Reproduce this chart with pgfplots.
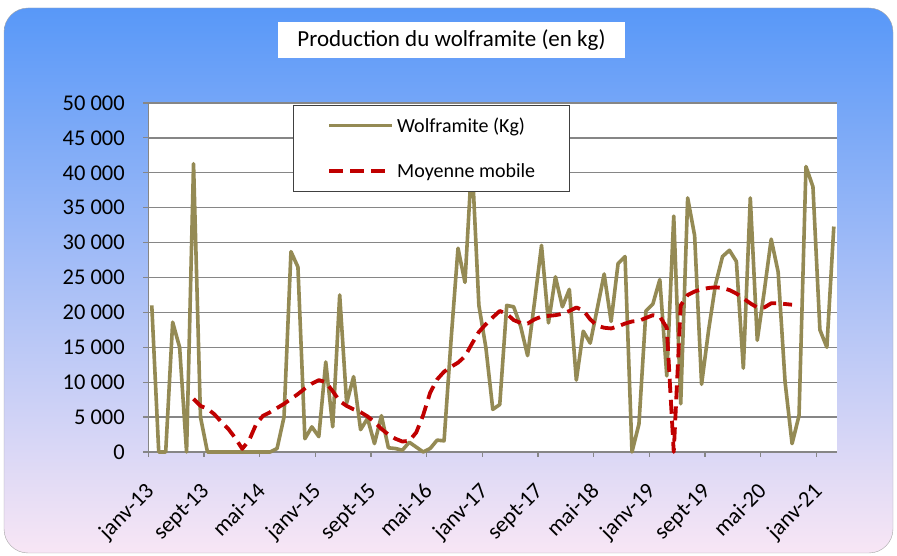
\documentclass[border=0pt]{standalone}
\usepackage{pgfplots}
\pgfplotsset{compat=1.18}
\usepackage{fontspec}
\setmainfont{Carlito}
\definecolor{wolf}{RGB}{148,138,84}
\definecolor{mmred}{RGB}{192,0,0}
\definecolor{axgray}{RGB}{134,134,134}
\definecolor{bgtop}{RGB}{88,152,248}
\definecolor{bgbot}{RGB}{248,230,245}
\begin{document}
\begin{tikzpicture}
\useasboundingbox (0,0) rectangle (897pt,556pt);
\shade[top color=bgtop, bottom color=bgbot, draw=gray!70, rounded corners=24pt] (4pt,3pt) rectangle (893pt,548pt);
\node[fill=white, minimum width=347pt, minimum height=36pt, inner sep=0pt, font=\fontsize{23}{27}\selectfont] at (451.5pt,516pt) {Production du wolframite (en kg)};
\begin{axis}[
  at={(148.3pt,104pt)}, anchor=south west,
  scale only axis, width=689pt, height=349pt,
  xmin=-0.5, xmax=98.5, ymin=0, ymax=50000,
  clip=false,
  axis background/.style={fill=white},
  axis x line*=bottom, axis y line*=left,
  axis line style={draw=axgray, line width=1.3pt, -},
  ytick={0,5000,...,50000},
  scaled y ticks=false,
  yticklabels={0,5~000,10~000,15~000,20~000,25~000,30~000,35~000,40~000,45~000,50~000},
  ymajorgrids,
  major grid style={draw=axgray, line width=1.3pt},
  tick align=outside, major tick length=5pt,
  tick style={draw=axgray, line width=1.2pt},
  xtick={-0.5,7.5,...,95.5},
  xticklabels={janv-13,sept-13,mai-14,janv-15,sept-15,mai-16,janv-17,sept-17,mai-18,janv-19,sept-19,mai-20,janv-21},
  tick label style={font=\fontsize{22.5}{26}\selectfont, text=black},
  yticklabel style={xshift=-15pt},
  xticklabel style={rotate=45, anchor=north east, xshift=-17pt, yshift=-11pt},
  legend style={at={(0.21,0.994)}, anchor=north west, draw=black!75, line width=0.9pt, fill=white,
    font=\fontsize{20}{24}\selectfont, inner xsep=34pt, inner ysep=12pt, row sep=30pt, column sep=3pt,
    nodes={inner sep=0pt}},
  legend cell align=left,
  legend image code/.code={\draw[#1] (0pt,0pt) -- (63pt,0pt);},
]
\addplot[color=wolf, line width=3.6pt, line join=round] coordinates {
(0,21000) (1,0) (2,0) (3,18600) (4,15000) (5,0) (6,41300) (7,5000) (8,0) (9,0)
(10,0) (11,0) (12,0) (13,0) (14,0) (15,0) (16,0) (17,0) (18,500) (19,5000)
(20,28700) (21,26500) (22,1900) (23,3600) (24,2200) (25,12900) (26,3600) (27,22500) (28,7000) (29,10800)
(30,3200) (31,4800) (32,1200) (33,5200) (34,600) (35,500) (36,250) (37,1400) (38,700) (39,0)
(40,500) (41,1700) (42,1600) (43,16000) (44,29200) (45,24300) (46,42000) (47,21000) (48,15000) (49,6100)
(50,6800) (51,21000) (52,20800) (53,18000) (54,13800) (55,21500) (56,29600) (57,18500) (58,25100) (59,20800)
(60,23300) (61,10300) (62,17300) (63,15600) (64,20500) (65,25500) (66,18700) (67,27000) (68,28000) (69,0)
(70,4000) (71,20200) (72,21200) (73,24700) (74,10900) (75,33800) (76,6900) (77,36400) (78,31000) (79,9700)
(80,17400) (81,24000) (82,28000) (83,28900) (84,27300) (85,12000) (86,36400) (87,16000) (88,23000) (89,30500)
(90,25800) (91,10000) (92,1200) (93,5200) (94,40900) (95,38000) (96,17500) (97,15000) (98,32300)
};
\addlegendentry{Wolframite (Kg)}
\addplot[color=mmred, line width=3.8pt, dash pattern=on 14pt off 7pt, line join=round] coordinates {
(6,7600) (7,6600) (8,6200) (9,5400) (10,4300) (11,3300) (12,2000) (13,450) (14,1700) (15,4000)
(16,5200) (17,5700) (18,6300) (19,6900) (20,7600) (21,8300) (22,9100) (23,9800) (24,10300) (25,10000)
(26,8700) (27,7300) (28,6600) (29,6100) (30,5700) (31,5100) (32,4300) (33,3300) (34,2500) (35,1900)
(36,1500) (37,1600) (38,2800) (39,5300) (40,8500) (41,10400) (42,11500) (43,12200) (44,12800) (45,13700)
(46,15500) (47,17200) (48,18300) (49,19300) (50,20200) (51,19800) (52,18900) (53,18500) (54,18400) (55,19000)
(56,19400) (57,19500) (58,19600) (59,19800) (60,20200) (61,20700) (62,20300) (63,19000) (64,18100) (65,17800)
(66,17700) (67,18000) (68,18400) (69,18700) (70,18800) (71,19200) (72,19600) (73,19400) (74,17800) (75,0)
(76,21000) (77,22500) (78,23000) (79,23300) (80,23500) (81,23600) (82,23500) (83,23200) (84,22700) (85,22000)
(86,21300) (87,20700) (88,20700) (89,21300) (90,21300) (91,21200) (92,21100)
};
\addlegendentry{Moyenne mobile}
\end{axis}
\end{tikzpicture}
\end{document}
